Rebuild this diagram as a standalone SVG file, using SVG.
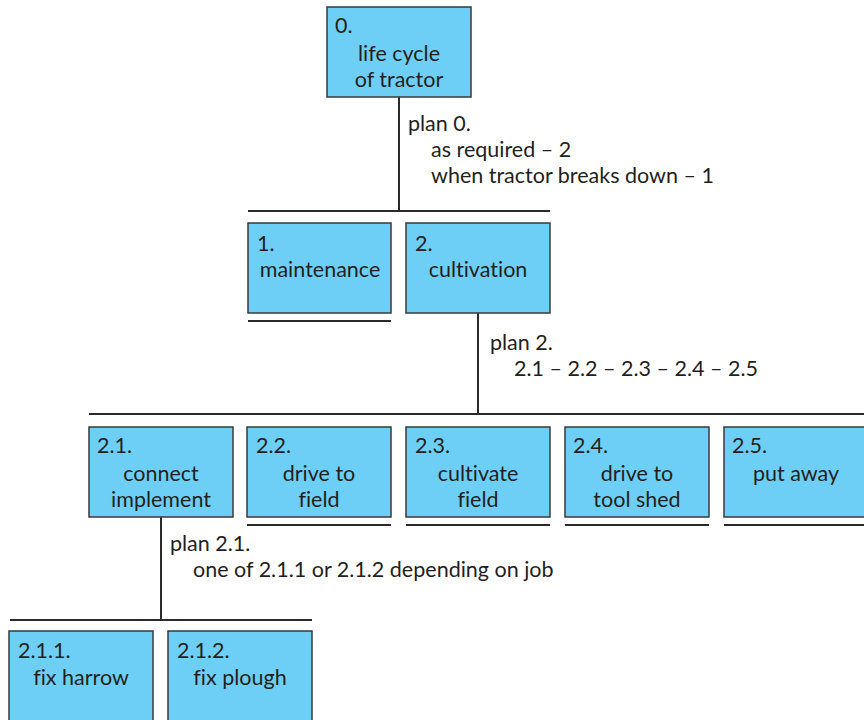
<svg xmlns="http://www.w3.org/2000/svg" width="864" height="720" viewBox="0 0 864 720">
<style>
.box{fill:#6dcff6;stroke:#3a3a3a;stroke-width:1.5}
.ln{stroke:#2a2a2a;stroke-width:2;fill:none}
text{font-family:Lato,"Open Sans","Liberation Sans",sans-serif;font-size:21.5px;fill:#231f20;font-variant-ligatures:none}
.c{text-anchor:middle}
</style>
<rect width="864" height="720" fill="#ffffff"/>
<g id="connectors">
<line class="ln" x1="399" y1="97" x2="399" y2="211"/>
<line class="ln" x1="248" y1="211" x2="550" y2="211"/>
<line class="ln" x1="248" y1="321" x2="391" y2="321"/>
<line class="ln" x1="478" y1="313" x2="478" y2="414"/>
<line class="ln" x1="89" y1="414" x2="864" y2="414"/>
<line class="ln" x1="247" y1="525" x2="391" y2="525"/>
<line class="ln" x1="406" y1="525" x2="550" y2="525"/>
<line class="ln" x1="565" y1="525" x2="709" y2="525"/>
<line class="ln" x1="724" y1="525" x2="864" y2="525"/>
<line class="ln" x1="161" y1="517" x2="161" y2="620"/>
<line class="ln" x1="10" y1="620" x2="312" y2="620"/>
</g>
<g id="plans">
<text x="408" y="131">plan 0.</text>
<text x="431" y="157">as required – 2</text>
<text x="431" y="183">when tractor breaks down – 1</text>
<text x="490" y="350">plan 2.</text>
<text x="514" y="376">2.1 – 2.2 – 2.3 – 2.4 – 2.5</text>
<text x="170" y="551">plan 2.1.</text>
<text x="193" y="577">one of 2.1.1 or 2.1.2 depending on job</text>
</g>
<g id="n0"><rect class="box" x="327" y="7" width="144" height="90"/><text x="335" y="33">0.</text><text class="c" x="399" y="61">life cycle</text><text class="c" x="399" y="87">of tractor</text></g>
<g id="n1"><rect class="box" x="248" y="223" width="143" height="90"/><text x="257" y="251">1.</text><text class="c" x="320" y="277">maintenance</text></g>
<g id="n2"><rect class="box" x="406" y="223" width="144" height="90"/><text x="415" y="251">2.</text><text class="c" x="478" y="277">cultivation</text></g>
<g id="n2_1"><rect class="box" x="89" y="427" width="144" height="90"/><text x="97" y="453">2.1.</text><text class="c" x="161" y="481">connect</text><text class="c" x="161" y="507">implement</text></g>
<g id="n2_2"><rect class="box" x="247" y="427" width="144" height="90"/><text x="256" y="453">2.2.</text><text class="c" x="319" y="481">drive to</text><text class="c" x="319" y="507">field</text></g>
<g id="n2_3"><rect class="box" x="406" y="427" width="144" height="90"/><text x="415" y="453">2.3.</text><text class="c" x="478" y="481">cultivate</text><text class="c" x="478" y="507">field</text></g>
<g id="n2_4"><rect class="box" x="565" y="427" width="144" height="90"/><text x="573" y="453">2.4.</text><text class="c" x="637" y="481">drive to</text><text class="c" x="637" y="507">tool shed</text></g>
<g id="n2_5"><rect class="box" x="724" y="427" width="144" height="90"/><text x="732" y="453">2.5.</text><text class="c" x="796" y="481">put away</text></g>
<g id="n2_1_1"><rect class="box" x="9" y="631" width="144" height="95"/><text x="18" y="658">2.1.1.</text><text class="c" x="81" y="685">fix harrow</text></g>
<g id="n2_1_2"><rect class="box" x="168" y="631" width="144" height="95"/><text x="177" y="658">2.1.2.</text><text class="c" x="240" y="685">fix plough</text></g>
</svg>
